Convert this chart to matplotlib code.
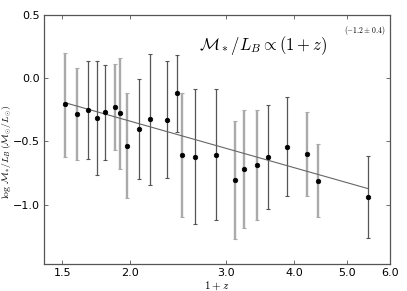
import matplotlib
matplotlib.use("Agg")
import matplotlib.pyplot as plt
from matplotlib.ticker import FixedLocator, FormatStrFormatter, NullLocator
import numpy as np

plt.rcParams['mathtext.fontset'] = 'cm'

# 1+z of each bin
opz = [1.515, 1.594, 1.673, 1.734, 1.794, 1.872, 1.912, 1.975, 2.073, 2.171,
       2.331, 2.432, 2.493, 2.631, 2.872, 3.110, 3.231, 3.425, 3.583, 3.885,
       4.226, 4.428, 5.463]
# log M*/L_B
logml = [-0.205, -0.284, -0.253, -0.316, -0.268, -0.227, -0.279, -0.534, -0.400, -0.327,
         -0.329, -0.122, -0.608, -0.624, -0.605, -0.804, -0.718, -0.687, -0.627, -0.542,
         -0.603, -0.813, -0.939]
# upper / lower ends of the error bars
upper = [0.202, 0.079, 0.137, 0.134, 0.107, 0.115, 0.158, -0.118, -0.008, 0.189,
         0.137, 0.182, -0.118, -0.087, -0.090, -0.343, -0.253, -0.250, -0.213, -0.153,
         -0.268, -0.524, -0.616]
lower = [-0.627, -0.647, -0.642, -0.766, -0.645, -0.568, -0.718, -0.950, -0.797, -0.842,
         -0.792, -0.424, -1.095, -1.158, -1.121, -1.271, -1.184, -1.126, -1.034, -0.931,
         -0.934, -1.100, -1.263]
# which bars are drawn light (1) or dark (0)
light = [1, 1, 0, 0, 0, 1, 1, 1, 0, 0,
         0, 0, 1, 0, 0, 1, 1, 1, 0, 0,
         1, 1, 0]

# fit: log M/L = a + b log(1+z)
fit_a = 0.026
fit_b = -1.22

fig = plt.figure(figsize=(4.07, 2.91), dpi=100)
ax = fig.add_axes([0.109, 0.093, 0.849, 0.856])

for i in range(len(opz)):
    if light[i]:
        col, lw = '#aaaaaa', 1.7
    else:
        col, lw = '#555555', 0.9
    ax.errorbar([opz[i]], [logml[i]],
                yerr=[[logml[i] - lower[i]], [upper[i] - logml[i]]],
                fmt='none', ecolor=col, elinewidth=lw, capsize=1.2, capthick=0.8)
ax.plot(opz, logml, 'o', color='black', ms=3.3, mew=0.5, zorder=5)

xx = np.array([opz[0], opz[-1]])
ax.plot(xx, fit_a + fit_b * np.log10(xx), '-', color='#666666', lw=0.8)

ax.set_xscale('log')
ax.set_xlim(1.39, 6.0)
ax.set_ylim(-1.47, 0.5)
ax.xaxis.set_major_locator(FixedLocator([1.5, 2.0, 3.0, 4.0, 5.0, 6.0]))
ax.xaxis.set_major_formatter(FormatStrFormatter('%.1f'))
ax.xaxis.set_minor_locator(NullLocator())
ax.set_yticks([-1.0, -0.5, 0.0, 0.5])
ax.set_yticklabels(['\u22121.0', '\u22120.5', '0.0', '0.5'])

for s in ax.spines.values():
    s.set_color('#555555')
    s.set_linewidth(0.9)
ax.tick_params(direction='in', top=True, right=True, length=3, width=0.6,
               color='#555555', labelsize=8, pad=3)

ax.set_xlabel(r'$1+z$', fontsize=8, labelpad=1)
ax.set_ylabel(r'$\log\,\mathcal{M}_{*}/L_B\,(\mathcal{M}_{\odot}/L_{\odot})$', fontsize=7)
ax.yaxis.set_label_coords(-0.089, 0.45)

ax.text(0.447, 0.878, r'$\mathcal{M}_*/L_B \propto (1+z)$', transform=ax.transAxes,
        fontsize=12, ha='left', va='center')
ax.text(0.986, 0.939, r'$(-1.2\pm0.4)$', transform=ax.transAxes,
        fontsize=5.5, ha='right', va='center')

fig.savefig('out.png', dpi=100)
